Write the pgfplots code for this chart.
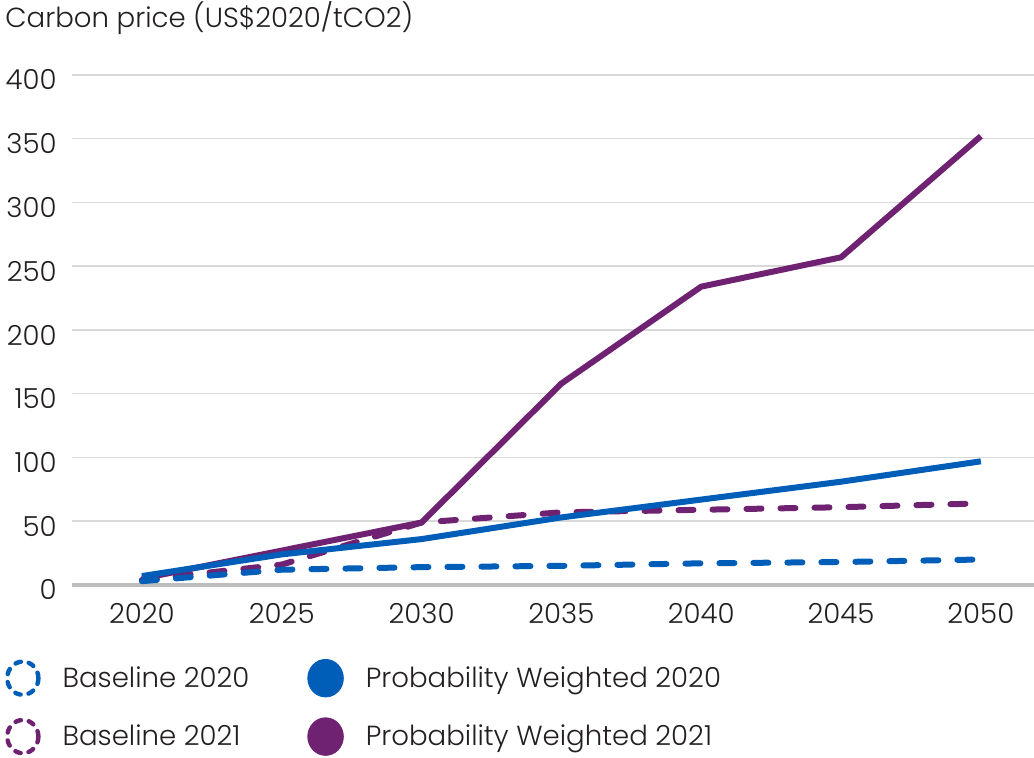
\documentclass[border=0pt]{standalone}
\usepackage{fontspec}
\setmainfont{Poppins Light}
\usepackage{pgfplots}
\pgfplotsset{compat=1.18}
\usetikzlibrary{calc}
\definecolor{pblue}{HTML}{005EB8}
\definecolor{ppurple}{HTML}{6E2271}
\definecolor{gridgray}{HTML}{D9D9D9}
\definecolor{axgray}{HTML}{BDBDBD}
\definecolor{txt}{HTML}{231F20}
\begin{document}
\begin{tikzpicture}
\begin{axis}[name=ax, scale only axis, width=481pt, height=255pt,
  xmin=2017.5, xmax=2051.9, ymin=0, ymax=400,
  xtick={2020,2025,...,2050}, ytick={0,50,...,400},
  axis x line*=bottom, axis y line*=left,
  x axis line style={draw=axgray, line width=2pt, -},
  y axis line style={draw=none},
  major tick length=0pt,
  ymajorgrids, grid style={draw=gridgray, line width=0.75pt},
  /pgf/number format/assume math mode=true,
  /pgf/number format/1000 sep={},
  tick label style={font=\fontsize{13.8}{16}\selectfont, text=txt},
  yticklabel style={anchor=east, inner sep=0pt, xshift=-7.5pt, yshift=-2.5pt},
  xticklabel style={anchor=north, inner sep=0pt, yshift=-9pt},
  clip=false,
  legend columns=2,
  legend cell align=left,
  legend style={at={(0,0)}, anchor=north west, xshift=-33.5pt, yshift=-37pt,
    draw=none, fill=none, inner sep=0pt, outer sep=0pt, row sep=10pt,
    nodes={inner sep=0pt, font=\fontsize{13.8}{16}\selectfont, text=txt},
    /tikz/every odd column/.append style={column sep=11pt},
    /tikz/every even column/.append style={column sep=29pt}},
]
\addplot[ppurple, line width=3pt, dash pattern=on 7.5pt off 9.5pt, line cap=round, forget plot]
  coordinates {(2020,4)(2025,16)(2030,49)(2035,57)(2040,59)(2045,61)(2050,64)};
\addplot[ppurple, line width=3pt, line join=round, forget plot]
  coordinates {(2020,5)(2025,27)(2030,49)(2035,158)(2040,234)(2045,257)(2050,352)};
\addplot[pblue, line width=3pt, dash pattern=on 7.5pt off 9.5pt, line cap=round, forget plot]
  coordinates {(2020,3)(2025,12)(2030,14)(2035,15)(2040,17)(2045,18)(2050,20)};
\addplot[pblue, line width=3pt, line join=round, forget plot]
  coordinates {(2020,7)(2025,24)(2030,36)(2035,53)(2040,67)(2045,81)(2050,97)};

\addlegendimage{legend image code/.code={\draw[pblue, line width=2.2pt, dash pattern=on 2.8pt off 4pt, line cap=round] (8.75pt,0pt) circle[x radius=7.8pt, y radius=8.3pt];}}
\addlegendentry{Baseline 2020}
\addlegendimage{legend image code/.code={\fill[pblue] (8.9pt,0pt) circle[x radius=8.9pt, y radius=9.4pt];}}
\addlegendentry{Probability Weighted 2020}
\addlegendimage{legend image code/.code={\draw[ppurple, line width=2.2pt, dash pattern=on 2.8pt off 4pt, line cap=round] (8.75pt,0pt) circle[x radius=7.8pt, y radius=8.3pt];}}
\addlegendentry{Baseline 2021}
\addlegendimage{legend image code/.code={\fill[ppurple] (8.9pt,0pt) circle[x radius=8.9pt, y radius=9.4pt];}}
\addlegendentry{Probability Weighted 2021}
\end{axis}
\node[anchor=base west, font=\fontsize{13.8}{16}\selectfont, text=txt, inner sep=0pt]
  at ($(ax.north west)+(-33.5pt,23.5pt)$) {Carbon price (US\$2020/tCO2)};
\pgfresetboundingbox
\path[use as bounding box] ($(ax.south west)+(-36pt,-86.5pt)$) rectangle ($(ax.north east)+(0pt,37.5pt)$);
\end{tikzpicture}
\end{document}
